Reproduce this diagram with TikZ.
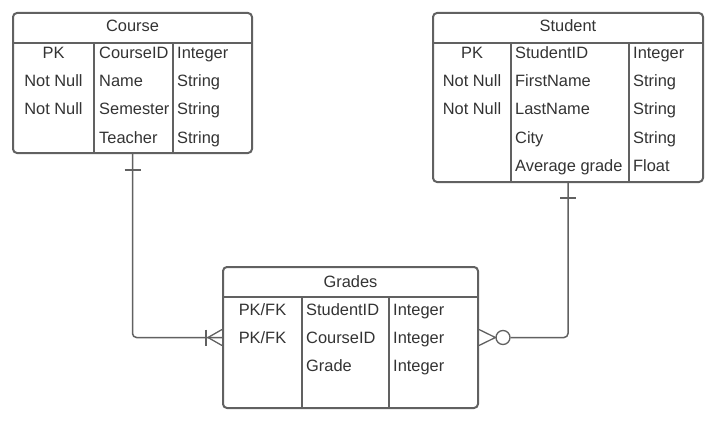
\documentclass[tikz,border=0pt]{standalone}
\usepackage{fontspec}
\setmainfont{Liberation Sans}
\usetikzlibrary{calc}
\definecolor{edge}{HTML}{616161}
\definecolor{ink}{HTML}{333333}
\tikzset{
  entity/.style={draw=edge, line width=2pt, rounded corners=4pt, inner sep=0, fill=white},
  divider/.style={draw=edge, line width=2pt},
  rel/.style={draw=edge, line width=1.5pt, rounded corners=4pt},
  endmark/.style={draw=edge, line width=1.3pt},
  cell/.style={inner sep=0, text=ink, font=\fontsize{16.4}{19}\selectfont, anchor=base west},
  keycell/.style={cell, anchor=base},
  title/.style={cell, anchor=base},
}
\begin{document}
\begin{tikzpicture}[x=1pt, y=-1pt]
\useasboundingbox (0,0) rectangle (717,425);

% ---- Course ----
\node[entity, minimum width=239pt, minimum height=140pt] (course) at (132.5,83) {};
\draw[divider] (13,43) -- (252,43);
\draw[divider] (94,43) -- (94,153);
\draw[divider] (173,43) -- (173,153);
\node[title] (course-t) at (132.5,32) {Course};
\node[keycell] (course-k1) at (53.5,59) {PK};
\node[keycell] (course-k2) at (53.5,87) {Not Null};
\node[keycell] (course-k3) at (53.5,115) {Not Null};
\node[cell] (course-f1) at (99,59) {CourseID};
\node[cell] (course-f2) at (99,87) {Name};
\node[cell] (course-f3) at (99,115) {Semester};
\node[cell] (course-f4) at (99,143) {Teacher};
\node[cell] (course-y1) at (177,59) {Integer};
\node[cell] (course-y2) at (177,87) {String};
\node[cell] (course-y3) at (177,115) {String};
\node[cell] (course-y4) at (177,143) {String};

% ---- Student ----
\node[entity, minimum width=270pt, minimum height=169pt] (student) at (568,97.5) {};
\draw[divider] (433,43) -- (703,43);
\draw[divider] (511,43) -- (511,182);
\draw[divider] (629,43) -- (629,182);
\node[title] (student-t) at (568,32) {Student};
\node[keycell] (student-k1) at (472,59) {PK};
\node[keycell] (student-k2) at (472,87) {Not Null};
\node[keycell] (student-k3) at (472,115) {Not Null};
\node[cell] (student-f1) at (515,59) {StudentID};
\node[cell] (student-f2) at (515,87) {FirstName};
\node[cell] (student-f3) at (515,115) {LastName};
\node[cell] (student-f4) at (515,143) {City};
\node[cell] (student-f5) at (515,171) {Average grade};
\node[cell] (student-y1) at (633,59) {Integer};
\node[cell] (student-y2) at (633,87) {String};
\node[cell] (student-y3) at (633,115) {String};
\node[cell] (student-y4) at (633,143) {String};
\node[cell] (student-y5) at (633,171) {Float};

% ---- Grades ----
\node[entity, minimum width=255pt, minimum height=141pt] (grades) at (350.5,337.5) {};
\draw[divider] (223,297) -- (478,297);
\draw[divider] (302,297) -- (302,408);
\draw[divider] (389,297) -- (389,408);
\node[title] (grades-t) at (350.5,287) {Grades};
\node[keycell] (grades-k1) at (262.5,315) {PK/FK};
\node[keycell] (grades-k2) at (262.5,343) {PK/FK};
\node[cell] (grades-f1) at (306,315) {StudentID};
\node[cell] (grades-f2) at (306,343) {CourseID};
\node[cell] (grades-f3) at (306,371) {Grade};
\node[cell] (grades-y1) at (393,315) {Integer};
\node[cell] (grades-y2) at (393,343) {Integer};
\node[cell] (grades-y3) at (393,371) {Integer};

% ---- Course (one) to Grades (one or many) ----
\draw[rel] (course.south) |- (grades.west);
\draw[endmark] ($(course.south)+(-8,16)$) -- ($(course.south)+(8,16)$);
\draw[endmark] ($(grades.west)+(-16,-8)$) -- ($(grades.west)+(-16,8)$);
\draw[endmark] ($(grades.west)+(0,-8)$) -- ($(grades.west)+(-14,0)$) -- ($(grades.west)+(0,8)$);

% ---- Student (one) to Grades (zero or many) ----
\node[circle, draw=edge, line width=1.3pt, fill=white, minimum size=14pt, inner sep=0] (opt) at ($(grades.east)+(24,0)$) {};
\draw[rel] (student.south) |- (opt.east);
\draw[endmark] ($(student.south)+(-8,15)$) -- ($(student.south)+(8,15)$);
\draw[endmark] ($(grades.east)+(0,-8)$) -- (opt.west) -- ($(grades.east)+(0,8)$);
\end{tikzpicture}
\end{document}
